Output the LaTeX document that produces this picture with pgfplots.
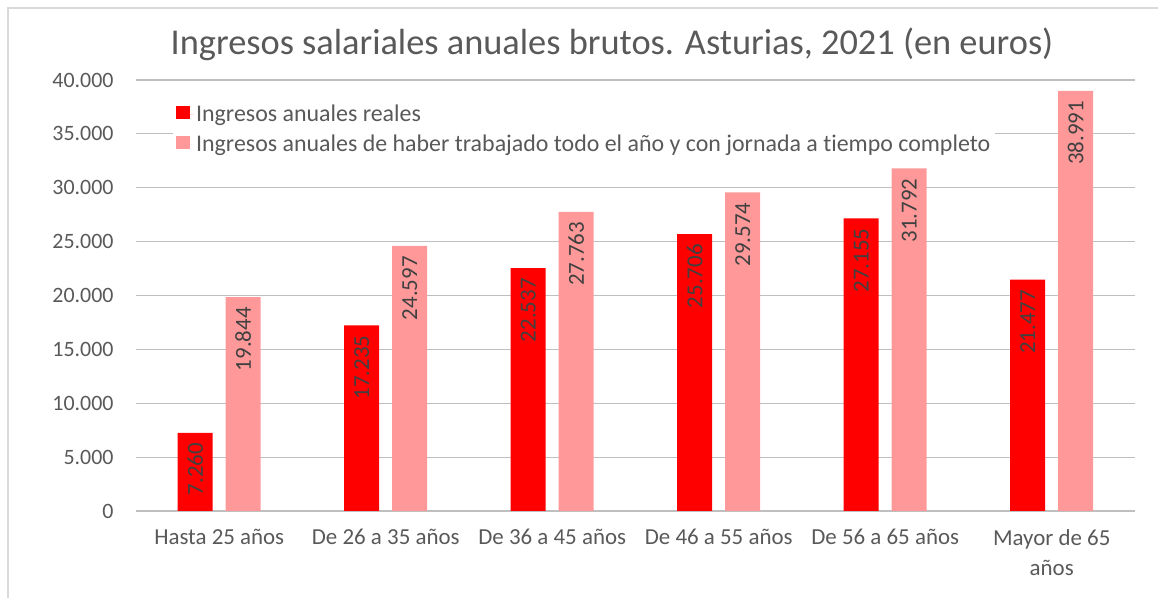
\documentclass[border=0pt]{standalone}
\usepackage{pgfplots}
\pgfplotsset{compat=1.18}
\usepackage{fontspec}
\setmainfont{Carlito}[Ligatures={NoCommon}]
\definecolor{rojo}{HTML}{FF0000}
\definecolor{rosa}{HTML}{FF9999}
\definecolor{txt}{HTML}{595959}
\definecolor{lbl}{HTML}{404040}
\definecolor{grid}{HTML}{D9D9D9}
\begin{document}
\begin{tikzpicture}[x=1bp,y=1bp]
\useasboundingbox (0,0) rectangle (1158,598);
\draw[grid,line width=1.5bp] (8,0) -- (8,590) -- (1158,590);
\node[text=txt,font=\fontsize{36.5}{40}\selectfont,anchor=base] at (612,543) {Ingresos salariales anuales brutos. Asturias, 2021 (en euros)};
\begin{axis}[
  at={(136bp,87bp)}, anchor=south west,
  scale only axis, width=999bp, height=431bp,
  xmin=-0.5, xmax=5.5, ymin=0, ymax=40000,
  ybar, bar width=35bp,
  axis line style={draw=none},
  ytick={0,5000,...,40000},
  xtick={0,1,2,3,4,5},
  xticklabels={Hasta 25 años, De 26 a 35 años, De 36 a 45 años, De 46 a 55 años, De 56 a 65 años, {Mayor de 65\\años}},
  major tick length=0pt,
  xtick style={draw=none}, ytick style={draw=none},
  xmajorgrids=false,
  ymajorgrids, grid style={grid, line width=1.2bp},
  scaled y ticks=false,
  /pgf/number format/fixed, /pgf/number format/precision=0,
  /pgf/number format/1000 sep={.}, /pgf/number format/assume math mode=true,
  yticklabel style={text=txt, font=\fontsize{22}{24}\selectfont, xshift=-19bp},
  xticklabel style={text=txt, font=\fontsize{23}{30}\selectfont, align=center, anchor=north, yshift=-15bp},
  legend style={at={(0.037,0.9536)}, anchor=north west, draw=none, fill=white, font=\fontsize{24}{26}\selectfont, text=txt, row sep=8bp, inner sep=3bp},
  legend cell align=left,
  legend image code/.code={\fill (0bp,-5bp) rectangle (14bp,8bp); \path (0bp,0bp) -- (18bp,0bp);},
  nodes near coords,
  nodes near coords style={rotate=90, anchor=east, text=lbl, font=\fontsize{23}{24}\selectfont, inner xsep=10bp},
  clip=false,
]
\addplot[fill=rojo, draw=none, bar shift=-24bp] coordinates {(0,7260) (1,17235) (2,22537) (3,25706) (4,27155) (5,21477)};
\addplot[fill=rosa, draw=none, bar shift=24bp] coordinates {(0,19844) (1,24597) (2,27763) (3,29574) (4,31792) (5,38991)};
\legend{Ingresos anuales reales, Ingresos anuales de haber trabajado todo el año y con jornada a tiempo completo}
\end{axis}
\end{tikzpicture}
\end{document}
